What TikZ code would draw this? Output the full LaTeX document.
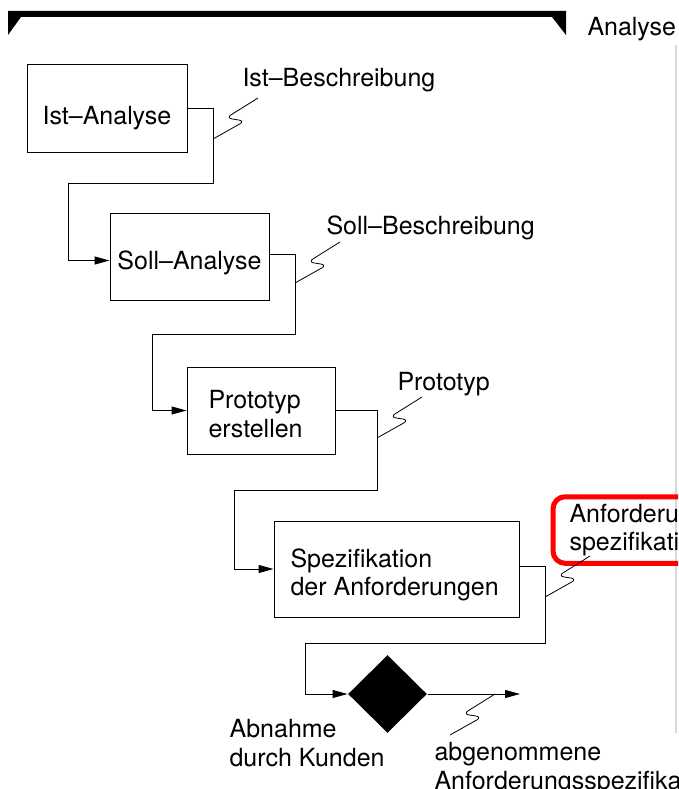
\documentclass[tikz,border=0pt]{standalone}
\usepackage{fontspec}
\setmainfont{TeX Gyre Heros}
\usetikzlibrary{arrows.meta, shapes.geometric, positioning}
\definecolor{specred}{HTML}{FF0000}
\definecolor{framegray}{HTML}{D8D8D8}

\begin{document}
\begin{tikzpicture}[x=1pt, y=-1pt, line width=1pt,
    every node/.style={font=\fontsize{25}{28.5}\selectfont, inner sep=0pt},
    stepbox/.style={draw, rectangle, minimum height=87pt},
    txt/.style={anchor=north west, align=left},
    flow/.style={-{Triangle[length=15pt, width=8pt]}},
    squiggle/.style={line width=0.8pt, rounded corners=6pt}]
    \useasboundingbox (0,0) rectangle (678,789);
    \clip (0,0) rectangle (678,789);

    % phase bracket
    \fill (8,11) -- (566,11) -- (566,35) -- (552,17) -- (21,17) -- (8,35) -- cycle;
    \node[anchor=base west] (phase) at (587,36) {Analyse};
    \draw[framegray, line width=2pt] (676,45) -- (676,733);

    % activities
    \node[stepbox, minimum width=160pt] (ist) at (107,108.5) {};
    \node[anchor=north] (istt) at (107,106) {Ist--Analyse};

    \node[stepbox, minimum width=159pt] (soll) at (189.5,256.5) {};
    \node[anchor=north] (sollt) at (189.5,250) {Soll--Analyse};

    \node[stepbox, minimum width=148pt] (proto) at (261,410.5) {};
    \node[txt] (protot) at (208,390) {Prototyp\\erstellen};

    \node[stepbox, minimum width=245pt, minimum height=96pt] (spez) at (396.5,569) {};
    \node[txt] (spezt) at (290,548) {Spezifikation\\der Anforderungen};

    \node[diamond, fill=black, minimum width=79pt, minimum height=78pt] (abnahme) at (387.5,694) {};
    \node[txt] (abnt) at (229,719) {Abnahme\\durch Kunden};

    % results
    \node[txt] (istb) at (242,68) {Ist--Beschreibung};
    \node[txt] (sollb) at (326,215) {Soll--Beschreibung};
    \node[txt] (protob) at (397,372) {Prototyp};
    \node[draw=specred, line width=5pt, rounded corners=12pt, anchor=west,
          minimum height=66.5pt, inner xsep=16.5pt, align=left] (anfs) at (550.5,530)
          {Anforderungs-\\spezifikation};
    \node[txt] (abg) at (434,742) {abgenommene\\Anforderungsspezifikation};

    % control flow
    \coordinate (b1) at (213,183);
    \coordinate (b2) at (68,183);
    \draw[flow] (ist.east) -| (b1) -- (b2) |- ([yshift=-4pt]soll.west);
    \coordinate (b3) at (295,334);
    \coordinate (b4) at (152,334);
    \draw[flow] ([yshift=2.5pt]soll.east) -| (b3) -- (b4) |- (proto.west);
    \coordinate (b5) at (377,490);
    \coordinate (b6) at (234,490);
    \draw[flow] (proto.east) -| (b5) -- (b6) |- (spez.west);
    \coordinate (b7) at (545,643);
    \coordinate (b8) at (305,643);
    \draw[flow] ([yshift=3pt]spez.east) -| (b7) -- (b8) |- (abnahme.west);
    \coordinate (ende) at (520,694);
    \draw[flow] (abnahme.east) -- (ende);

    % flashes from flow to result
    \coordinate (s1) at (213,139);
    \coordinate (s2) at (295,283);
    \coordinate (s3) at (377,438);
    \coordinate (s4) at (545,597);
    \coordinate (s5) at (450,735);
    \foreach \s in {s1,s2,s3,s4,s5}
        \draw[squiggle] (\s) -- ++(32,-18) -- ++(-19,-3) -- ++(32,-20);
\end{tikzpicture}
\end{document}
